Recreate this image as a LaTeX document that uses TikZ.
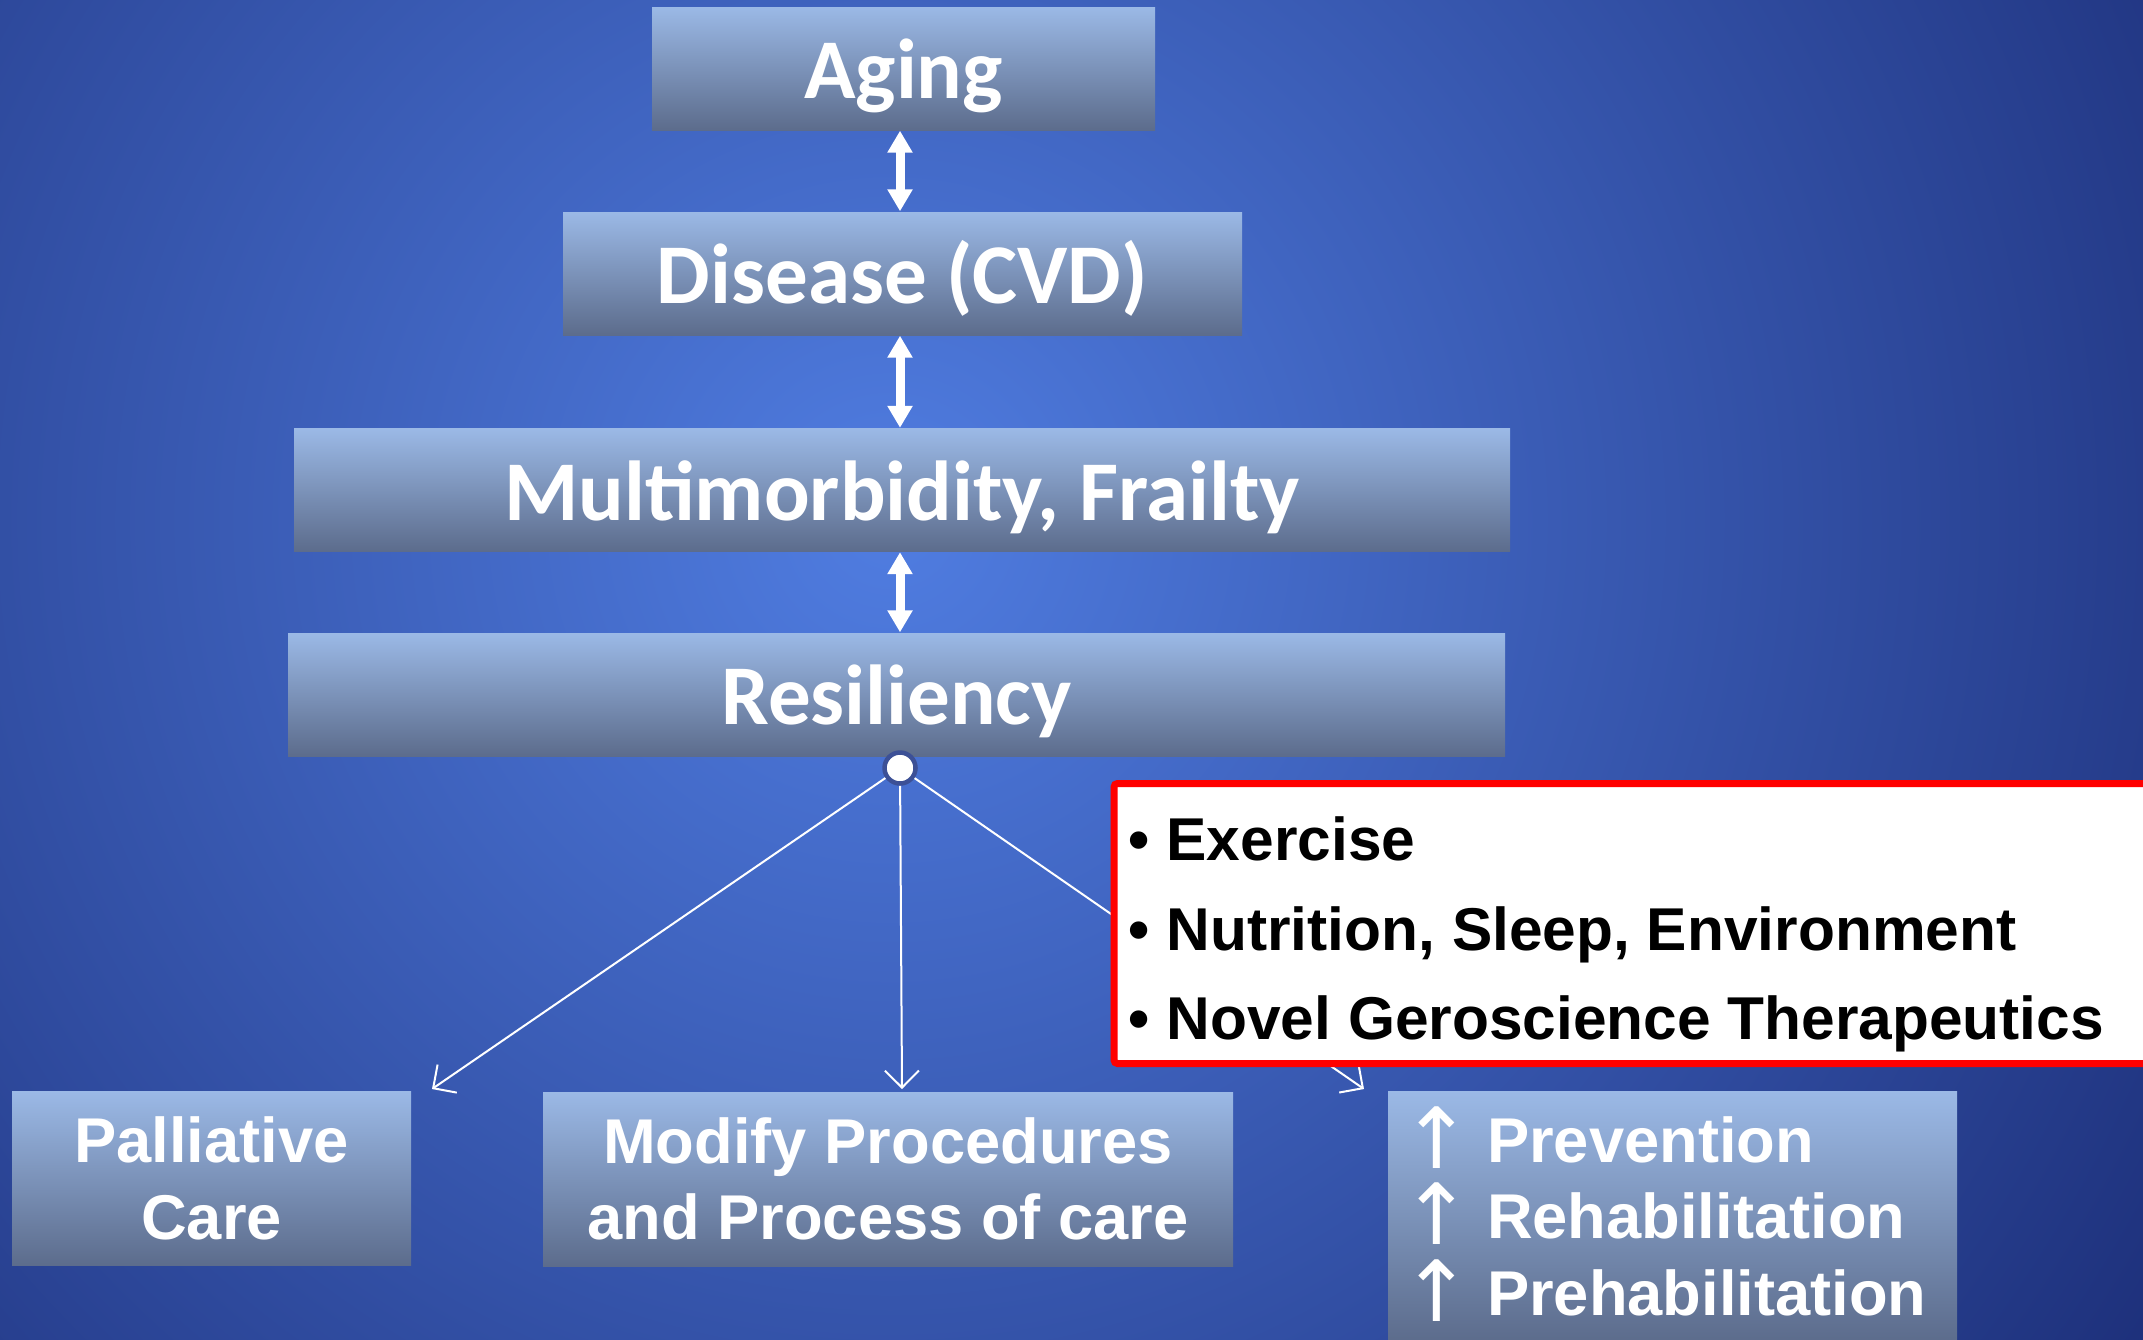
\documentclass[tikz,border=0pt]{standalone}
\usepackage{fontspec}
\setmainfont{Liberation Sans}
\newfontfamily\calibri{Carlito}
\newfontfamily\arrowfont{DejaVu Sans}
\usetikzlibrary{arrows.meta}
\definecolor{bgin}{RGB}{80,125,225}
\definecolor{bgout}{RGB}{28,46,120}
\definecolor{boxtop}{RGB}{155,185,230}
\definecolor{boxbot}{RGB}{92,108,140}
\definecolor{hubring}{RGB}{60,80,150}
\newcommand{\incr}{\makebox[0.74cm][c]{\smash{\raisebox{-0.06cm}{\arrowfont\mdseries\fontsize{24}{21.5}\selectfont ↑}}}\hspace{0.13cm}}
\tikzset{
  lvl/.style={top color=boxtop, bottom color=boxbot, text=white, inner sep=0pt,
              font=\calibri\bfseries\fontsize{24.2}{28}\selectfont, minimum height=1.23cm,
              text height=0.7cm, text depth=0.1cm},
  opt/.style={top color=boxtop, bottom color=boxbot, text=white, align=center, inner sep=0pt,
              font=\bfseries\fontsize{18}{21.8}\selectfont, minimum height=1.74cm},
  dbl/.style={white, line width=0.09cm,
              {Triangle[width=2.4mm,length=2.2mm]}-{Triangle[width=2.4mm,length=2.2mm]}},
  spoke/.style={white, line width=0.02cm, -{Straight Barb[length=1.7mm,width=3.4mm]}},
  hub/.style={circle, fill=white, draw=hubring, line width=0.045cm, minimum size=0.31cm, inner sep=0pt},
  levers/.style={draw=red, line width=0.07cm, fill=white, rounded corners=1pt,
                 minimum width=11cm, minimum height=2.8cm},
  leverstxt/.style={align=left, inner sep=0pt, font=\bfseries\fontsize{17.2}{25.5}\selectfont},
}
\begin{document}
\begin{tikzpicture}
    \useasboundingbox (0,0) rectangle (21.43,-13.39);
    % background
    \fill[bgout] (0,0) rectangle (21.43,-13.39);
    \shade[inner color=bgin, outer color=bgout] (8.9,-5.2) circle (15.5);

    \node[lvl, minimum width=5.03cm]  (aging)   at (9.035,-0.685) {Aging};
    \node[lvl, minimum width=6.79cm]  (disease) at (9.025,-2.735) {Disease (CVD)};
    \node[lvl, minimum width=12.16cm] (multi)   at (9.02,-4.90)   {Multimorbidity, Frailty};
    \node[lvl, minimum width=12.17cm] (resil)   at (8.965,-6.945) {Resiliency};

    \node[opt, minimum width=3.99cm] (pall)   at (2.115,-11.785) {Palliative\\Care};
    \node[opt, minimum width=6.90cm] (modify) at (8.88,-11.79)   {Modify Procedures\\and Process of care};
    \node[opt, minimum width=5.69cm, minimum height=2.5cm, align=left, text width=5.45cm,
          inner xsep=0.12cm] (prev) at (16.725,-12.16)
      {\incr Prevention\\\incr Rehabilitation\\\incr Prehabilitation};

    \node[hub] (hub) at (9.0,-7.68) {};
    \coordinate (toPall) at (4.32,-10.89);
    \coordinate (toMod)  at (9.02,-10.89);
    \coordinate (toPrev) at (13.64,-10.89);

    \draw[dbl] (aging.south -| hub) -- (disease.north -| hub);
    \draw[dbl] (disease.south -| hub) -- (multi.north -| hub);
    \draw[dbl] (multi.south -| hub) -- (resil.north -| hub);

    \draw[spoke] (hub) -- (toPall);
    \draw[spoke] (hub) -- (toMod);
    \draw[spoke] (hub) -- (toPrev);

    \node[levers, anchor=west] (box) at (11.105,-9.235) {};
    \node[leverstxt, anchor=north west] (boxtxt) at (11.28,-8.16)
      {• Exercise\\• Nutrition, Sleep, Environment\\• Novel Geroscience Therapeutics};
\end{tikzpicture}
\end{document}
